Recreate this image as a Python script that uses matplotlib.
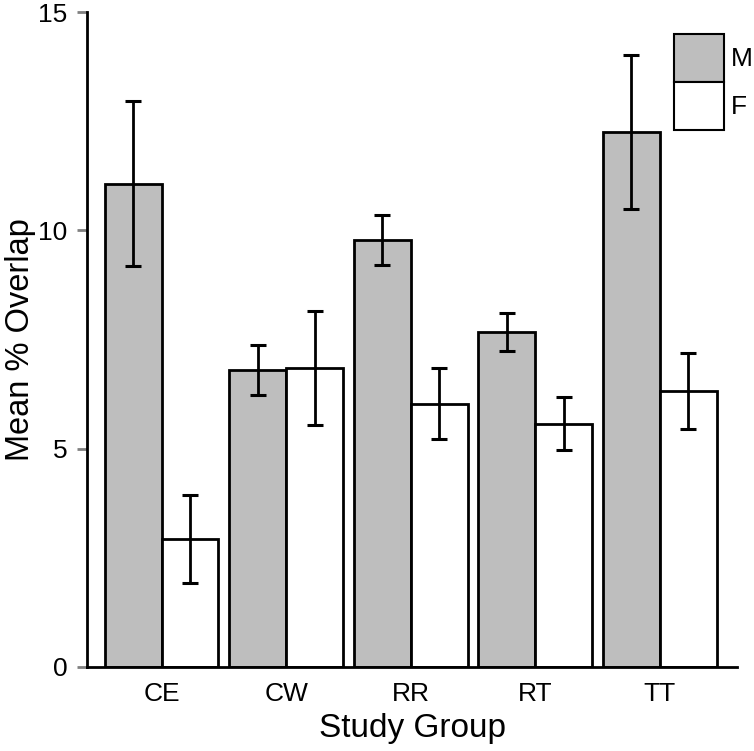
import numpy as np
import matplotlib
matplotlib.use("Agg")
import matplotlib.pyplot as plt
from matplotlib.patches import Patch

# values
groups = ["CE", "CW", "RR", "RT", "TT"]
male_mean = [11.07, 6.80, 9.78, 7.67, 12.26]
male_err = [1.89, 0.58, 0.58, 0.44, 1.76]
female_mean = [2.93, 6.85, 6.03, 5.57, 6.32]
female_err = [1.01, 1.30, 0.82, 0.61, 0.86]
series_labels = ["M", "F"]
y_ticks = [0, 5, 10, 15]

plt.rcParams["font.family"] = ["Liberation Sans", "DejaVu Sans"]

fig = plt.figure(figsize=(7.54, 7.51), dpi=100)
ax = fig.add_axes([0.1154, 0.1119, 0.8621, 0.8721])

x = np.arange(len(groups))
w = 0.457

ax.bar(x - w / 2, male_mean, width=w, color="#bebebe", edgecolor="black",
       linewidth=2, zorder=2)
ax.bar(x + w / 2, female_mean, width=w, color="white", edgecolor="black",
       linewidth=2, zorder=2)
ax.errorbar(x - w / 2, male_mean, yerr=male_err, fmt="none", ecolor="black",
            elinewidth=2, capsize=5.5, capthick=2.2, zorder=3)
ax.errorbar(x + w / 2, female_mean, yerr=female_err, fmt="none", ecolor="black",
            elinewidth=2, capsize=5.5, capthick=2.2, zorder=3)

ax.set_xlim(-0.598, 4.619)
ax.set_ylim(0, 15)
ax.set_yticks(y_ticks)
ax.set_xticks(x)
ax.set_xticklabels(groups)

ax.spines["top"].set_visible(False)
ax.spines["right"].set_visible(False)
ax.spines["left"].set_linewidth(2)
ax.spines["bottom"].set_linewidth(2)

ax.tick_params(axis="y", length=7, width=2, color="#808080", labelsize=19, pad=7)
ax.tick_params(axis="x", length=0, labelsize=19, pad=11)

ax.set_xlabel("Study Group", fontsize=24, labelpad=5)
ax.set_ylabel("Mean % Overlap", fontsize=23.5, labelpad=2)

handles = [Patch(facecolor="#bebebe", edgecolor="black", linewidth=1.5),
           Patch(facecolor="white", edgecolor="black", linewidth=1.5)]
ax.legend(handles, series_labels, loc="upper left",
          bbox_to_anchor=(674 / 754, 1 - 34 / 751), bbox_transform=fig.transFigure,
          frameon=False, fontsize=19, handlelength=1.89, handleheight=2.42,
          labelspacing=0, handletextpad=0.25, borderpad=0, borderaxespad=0)

fig.savefig("out.png", dpi=100)
